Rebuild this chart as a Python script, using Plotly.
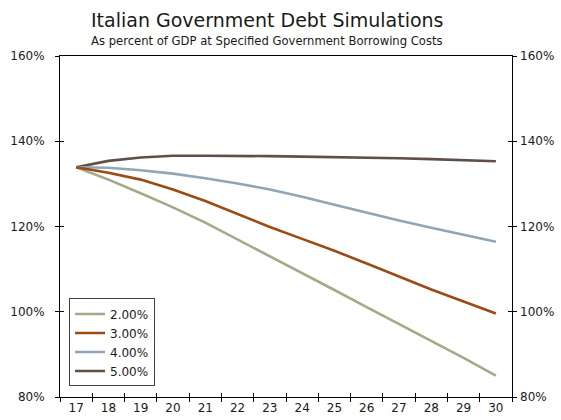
import plotly.graph_objects as go

years = ["17", "18", "19", "20", "21", "22", "23", "24", "25", "26", "27", "28", "29", "30"]
series_names = ["2.00%", "3.00%", "4.00%", "5.00%"]
rate_2 = [133.9, 131.0, 127.8, 124.5, 120.9, 117.0, 113.1, 109.1, 105.1, 101.1, 97.1, 93.1, 89.2, 85.0]
rate_3 = [133.9, 132.6, 131.0, 128.7, 126.0, 123.0, 119.9, 117.1, 114.3, 111.3, 108.2, 105.2, 102.4, 99.6]
rate_4 = [133.9, 133.8, 133.2, 132.4, 131.3, 130.1, 128.7, 127.0, 125.1, 123.2, 121.4, 119.7, 118.1, 116.4]
rate_5 = [133.9, 135.4, 136.2, 136.6, 136.6, 136.6, 136.5, 136.4, 136.3, 136.1, 136.0, 135.8, 135.5, 135.3]
y_ticks = [80, 100, 120, 140, 160]

colors = ["#A4AA88", "#9C4B12", "#8EA6B7", "#5E5049"]
# axis pairs each series is bound to (all share identical ranges)
axis_pairs = [("x", "y"), ("x2", "y"), ("x", "y3"), ("x", "y2")]
FONT = "DejaVu Sans"

fig = go.Figure()
for name, vals, c, (xa, ya) in zip(series_names, [rate_2, rate_3, rate_4, rate_5], colors, axis_pairs):
    fig.add_trace(go.Scatter(x=years, y=vals, name=name, mode="lines", xaxis=xa, yaxis=ya,
                             line=dict(color=c, width=2.6)))

tick_common = dict(showgrid=False, zeroline=False, tickcolor="black", tickwidth=1, automargin=False)
xr = [-0.5, len(years) - 0.5]
yr = [y_ticks[0], y_ticks[-1]]
ytext = [f"{v}%" for v in y_ticks]

fig.update_layout(
    width=561, height=420,
    margin=dict(l=60, r=49, t=56, b=23),
    paper_bgcolor="white", plot_bgcolor="white",
    font=dict(family=FONT, size=12, color="#1a1a1a"),
    showlegend=True,
    legend=dict(x=0.02, y=0.031, xanchor="left", yanchor="bottom",
                bordercolor="#404040", borderwidth=1, bgcolor="white",
                font=dict(family=FONT, size=12, color="#1a1a1a"),
                itemwidth=30, tracegroupgap=0, traceorder="normal"),
    xaxis=dict(type="category", range=xr, tickson="boundaries", ticks="outside", ticklen=4,
               showline=True, mirror=True, linecolor="black", linewidth=1, **tick_common),
    xaxis2=dict(type="category", overlaying="x", range=xr, tickson="boundaries",
                ticks="inside", ticklen=4, showticklabels=False, showline=False,
                side="bottom", **tick_common),
    yaxis=dict(range=yr, tickvals=y_ticks, ticktext=ytext, ticks="outside", ticklen=4,
               ticklabelstandoff=8,
               showline=True, mirror="ticks", linecolor="black", linewidth=1, **tick_common),
    yaxis2=dict(overlaying="y", side="right", range=yr, tickvals=y_ticks,
                ticktext=ytext, ticks="", ticklabelstandoff=7, showline=False, **tick_common),
    yaxis3=dict(overlaying="y", range=yr, tickvals=y_ticks,
                ticks="inside", ticklen=4, showticklabels=False, showline=False, mirror="ticks",
                **tick_common),
)

fig.add_annotation(text="Italian Government Debt Simulations", xref="paper", yref="paper",
                   x=0.458, y=1, yshift=36, showarrow=False, xanchor="center", yanchor="middle",
                   font=dict(family=FONT, size=19, color="#1a1a1a"))
fig.add_annotation(text="As percent of GDP at Specified Government Borrowing Costs", xref="paper", yref="paper",
                   x=0.458, y=1, yshift=15, showarrow=False, xanchor="center", yanchor="middle",
                   font=dict(family=FONT, size=11.6, color="#1a1a1a"))

fig.write_html("out.html", config={"displayModeBar": False},
               post_script="document.body.style.margin='0';document.body.style.overflow='hidden';")
